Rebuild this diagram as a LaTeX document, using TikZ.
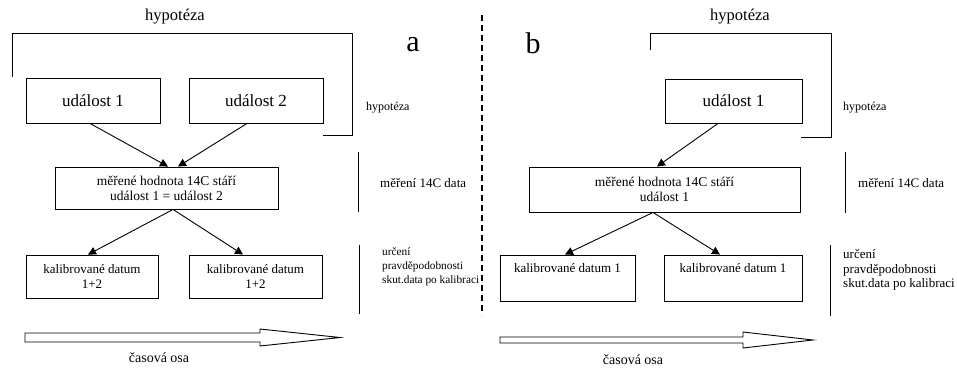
\documentclass[tikz,border=0pt]{standalone}
\usepackage{fontspec}
\setmainfont{Liberation Serif}
\usetikzlibrary{arrows.meta,calc}
\begin{document}
\begin{tikzpicture}[x=1pt,y=-1pt,
  box/.style={draw,line width=0.9pt,inner sep=0pt,align=center},
  evt/.style={box,font=\fontsize{17}{20}\selectfont},
  mbox/.style={box,font=\fontsize{13.5}{15}\selectfont},
  kbox/.style={box,font=\fontsize{13}{15}\selectfont},
  conn/.style={line width=0.9pt,-{Triangle[length=8pt,width=8pt]}},
  brk/.style={line width=0.9pt},
  lbl/.style={inner sep=0pt,align=left,font=\fontsize{13}{14.5}\selectfont},
  small/.style={inner sep=0pt,font=\fontsize{12}{14}\selectfont},
  head/.style={inner sep=0pt,font=\fontsize{16.5}{18}\selectfont},
  big/.style={inner sep=0pt,font=\fontsize{30}{32}\selectfont},
  axis/.style={inner sep=0pt,font=\fontsize{14}{16}\selectfont}]
\useasboundingbox (0,0) rectangle (957,367);

% ---------------- panel a ----------------
\node[head] (ha) at (175,17) {hypotéza};
\draw[brk] (12,77) -- (12,33) -- (352,33) -- (352,135) -- (323,135);
\node[big] (la) at (413,45) {a};
\node[small,anchor=west] (hsa) at (366,108) {hypotéza};

\node[evt,minimum width=134pt,minimum height=45pt] (e1) at (93,100.5) {událost 1};
\node[evt,minimum width=134pt,minimum height=45pt] (e2) at (256,100.5) {událost 2};
\node[mbox,minimum width=223pt,minimum height=42pt] (m) at (166.5,188) {měřené hodnota 14C stáří\\událost 1 = událost 2};
\node[kbox,minimum width=132pt,minimum height=43pt] (k1) at (92,276.5) {kalibrované datum\\1+2};
\node[kbox,minimum width=133pt,minimum height=43pt] (k2) at (255.5,276.5) {kalibrované datum\\1+2};

\draw[conn] ([xshift=-3pt]e1.south) -- ([xshift=1.5pt]m.north);
\draw[conn] ([xshift=-9pt]e2.south) -- ([xshift=11.5pt]m.north);
\draw[conn] ([xshift=6.5pt]m.south) -- ([xshift=-4pt]k1.north);
\draw[conn] ([xshift=6.5pt]m.south) -- ([xshift=-12.5pt]k2.north);

\draw[brk] (358,152) -- (358,212);
\node[lbl,anchor=west] (ma) at (380,183) {měření 14C data};
\draw[brk] (359,245) -- (359,314);
\node[lbl,anchor=west,font=\fontsize{11.3}{14}\selectfont] (ka) at (382,267) {určení\\pravděpodobnosti\\skut.data po kalibraci};

\draw[brk] (25,333) -- (260,333) -- (260,329) -- (340,337.5) -- (260,346) -- (260,342) -- (25,342) -- cycle;
\node[axis] (ta) at (159,358) {časová osa};

% ---------------- divider ----------------
\draw[line width=2pt,dash pattern=on 6pt off 4pt] (482,15) -- (482,315);

% ---------------- panel b ----------------
\node[head] (hb) at (740,17) {hypotéza};
\draw[brk] (650,50) -- (650,33) -- (831,33) -- (831,137) -- (801,137);
\node[big] (lb) at (533,43) {b};
\node[small,anchor=west] (hsb) at (843,108) {hypotéza};

\node[evt,minimum width=137pt,minimum height=44pt] (f1) at (733.5,101) {událost 1};
\node[mbox,minimum width=271pt,minimum height=45pt] (n) at (664.5,189.5) {měřené hodnota 14C stáří\\událost 1};
\node[kbox,minimum width=135pt,minimum height=46pt] (l1) at (567.5,278) {kalibrované datum 1\\\strut};
\node[kbox,minimum width=138pt,minimum height=46pt] (l2) at (733,278) {kalibrované datum 1\\\strut};

\draw[conn] ([xshift=-15.5pt]f1.south) -- ([xshift=-7.5pt]n.north);
\draw[conn] ([xshift=-11.5pt]n.south) -- ([xshift=-2.5pt]l1.north);
\draw[conn] ([xshift=-11.5pt]n.south) -- ([xshift=-13pt]l2.north);

\draw[brk] (845,152) -- (845,213);
\node[lbl,anchor=west] (mb) at (858,183) {měření 14C data};
\draw[brk] (830,245) -- (830,316);
\node[lbl,anchor=west] (kb) at (843,270) {určení\\pravděpodobnosti\\skut.data po kalibraci};

\draw[brk] (500,337) -- (743,337) -- (743,332) -- (813,340) -- (743,348) -- (743,343) -- (500,343) -- cycle;
\node[axis] (tb) at (633,360) {časová osa};
\end{tikzpicture}
\end{document}
